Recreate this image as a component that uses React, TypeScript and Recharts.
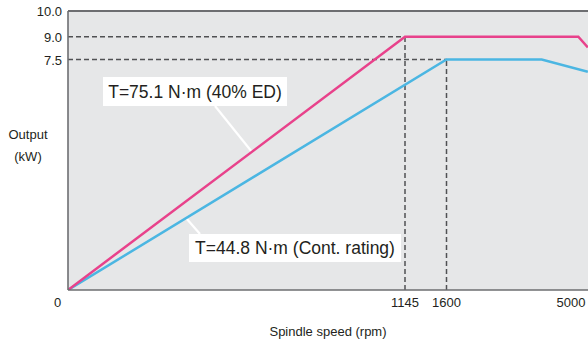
import { LineChart, Line, XAxis, YAxis, CartesianGrid, ReferenceLine, ReferenceArea } from 'recharts';

// tick values on both axes
const speedTicks = [0, 1145, 1600, 5000];
const outputTicks = [7.5, 9.0, 10.0];

// 40% ED curve
const ratedSpeed = [0, 1145, 5200, 5460];
const ratedOutput = [0, 9.0, 9.0, 8.3];

// continuous rating curve
const contSpeed = [0, 1600, 4200, 5460];
const contOutput = [0, 7.5, 7.5, 7.1];

// corner points that get dashed guides
const guideSpeed = [1145, 1600];
const guideOutput = [9.0, 7.5];

// the drawing is not to scale: piecewise axis warps (value stops -> axis units)
const X_STOPS = [0, 1145, 1600, 5000];
const X_AT = [0, 337, 378.5, 503];
const X_SPAN = 520;
const Y_STOPS = [0, 7.5, 9, 10];
const Y_AT = [0, 230.5, 253.3, 279];

function warp(v: number, stops: number[], at: number[]) {
  let i = 0;
  while (i < stops.length - 2 && v > stops[i + 1]) i++;
  return at[i] + ((v - stops[i]) * (at[i + 1] - at[i])) / (stops[i + 1] - stops[i]);
}
const wx = (v: number) => warp(v, X_STOPS, X_AT);
const wy = (v: number) => warp(v, Y_STOPS, Y_AT);

const toPoints = (xs: number[], ys: number[]) => xs.map((x, i) => ({ x: wx(x), y: wy(ys[i]) }));
const ratedData = toPoints(ratedSpeed, ratedOutput);
const contData = toPoints(contSpeed, contOutput);

const INK = '#231f20';
const AXIS = '#6d6e71';
const DASH = '#505153';

function XTick(props: any) {
  const { x, y, payload } = props;
  const i = speedTicks.findIndex((s) => Math.abs(wx(s) - payload.value) < 0.01);
  const v = speedTicks[i];
  return (
    <text x={x + (v === 0 ? -10.5 : 0)} y={y} dy="0.71em" textAnchor="middle" fill={INK} fontSize={13}>
      {v}
    </text>
  );
}

function YTick(props: any) {
  const { x, y, payload } = props;
  const i = outputTicks.findIndex((s) => Math.abs(wy(s) - payload.value) < 0.01);
  return (
    <text x={x} y={y} dy="0.4em" textAnchor="end" fill={INK} fontSize={13}>
      {outputTicks[i].toFixed(1)}
    </text>
  );
}

export default function App() {
  return (
    <div style={{ width: 588, height: 345, fontFamily: '"Liberation Sans", Arial, sans-serif', background: '#fff' }}>
      <style>{'body{margin:0}'}</style>
      <LineChart width={588} height={345} data={ratedData} margin={{ top: 11, right: 0, bottom: 25, left: 8 }}>
        <CartesianGrid fill="#e6e7e8" horizontal={false} vertical={false} />
        <XAxis
          type="number"
          dataKey="x"
          domain={[0, X_SPAN]}
          ticks={speedTicks.map(wx)}
          interval={0}
          allowDataOverflow
          height={30}
          tick={<XTick />}
          tickLine={false}
          tickSize={6}
          tickMargin={2}
          axisLine={{ stroke: AXIS, strokeWidth: 1.6 }}
          label={{
            content: (p: any) => (
              <text x={p.viewBox.x + p.viewBox.width / 2} y={p.viewBox.y + 46} textAnchor="middle" fill={INK} fontSize={13}>
                Spindle speed (rpm)
              </text>
            ),
          }}
        />
        <YAxis
          type="number"
          dataKey="y"
          domain={[0, Y_AT[Y_AT.length - 1]]}
          ticks={outputTicks.map(wy)}
          interval={0}
          allowDataOverflow
          width={60}
          tick={<YTick />}
          tickLine={false}
          tickSize={4}
          tickMargin={2}
          axisLine={{ stroke: AXIS, strokeWidth: 1.6 }}
          label={{
            content: (p: any) => (
              <text x={p.viewBox.x + 20} y={139} textAnchor="middle" fill={INK} fontSize={13}>
                <tspan x={p.viewBox.x + 20}>Output</tspan>
                <tspan x={p.viewBox.x + 20} y={161}>(kW)</tspan>
              </text>
            ),
          }}
        />
        <ReferenceLine y={Y_AT[Y_AT.length - 1]} stroke={AXIS} strokeWidth={2} />
        {guideSpeed.map((s, i) => (
          <ReferenceLine
            key={'h' + s}
            segment={[{ x: 0, y: wy(guideOutput[i]) }, { x: wx(s), y: wy(guideOutput[i]) }]}
            stroke={DASH}
            strokeWidth={1.5}
            strokeDasharray="5 3"
          />
        ))}
        {guideSpeed.map((s, i) => (
          <ReferenceLine
            key={'v' + s}
            segment={[{ x: wx(s), y: 0 }, { x: wx(s), y: wy(guideOutput[i]) }]}
            stroke={DASH}
            strokeWidth={1.5}
            strokeDasharray="5 3"
          />
        ))}
        <ReferenceLine segment={[{ x: 147, y: 184 }, { x: 184, y: 138 }]} stroke="#fff" strokeWidth={2.2} />
        <ReferenceLine segment={[{ x: 118, y: 72 }, { x: 132, y: 56 }]} stroke="#fff" strokeWidth={2.2} />
        <ReferenceArea
          x1={35}
          x2={219}
          y1={184}
          y2={213}
          fill="#fff"
          fillOpacity={1}
          stroke="none"
          label={{ value: 'T=75.1 N·m (40% ED)', position: 'center', fill: INK, fontSize: 17.5 }}
        />
        <ReferenceArea
          x1={121}
          x2={333}
          y1={28}
          y2={56}
          fill="#fff"
          fillOpacity={1}
          stroke="none"
          label={{ value: 'T=44.8 N·m (Cont. rating)', position: 'center', fill: INK, fontSize: 17.5 }}
        />
        <Line data={contData} dataKey="y" type="linear" stroke="#4bb6e2" strokeWidth={2.5} dot={false} isAnimationActive={false} />
        <Line data={ratedData} dataKey="y" type="linear" stroke="#e8428b" strokeWidth={2.5} dot={false} isAnimationActive={false} />
      </LineChart>
    </div>
  );
}
